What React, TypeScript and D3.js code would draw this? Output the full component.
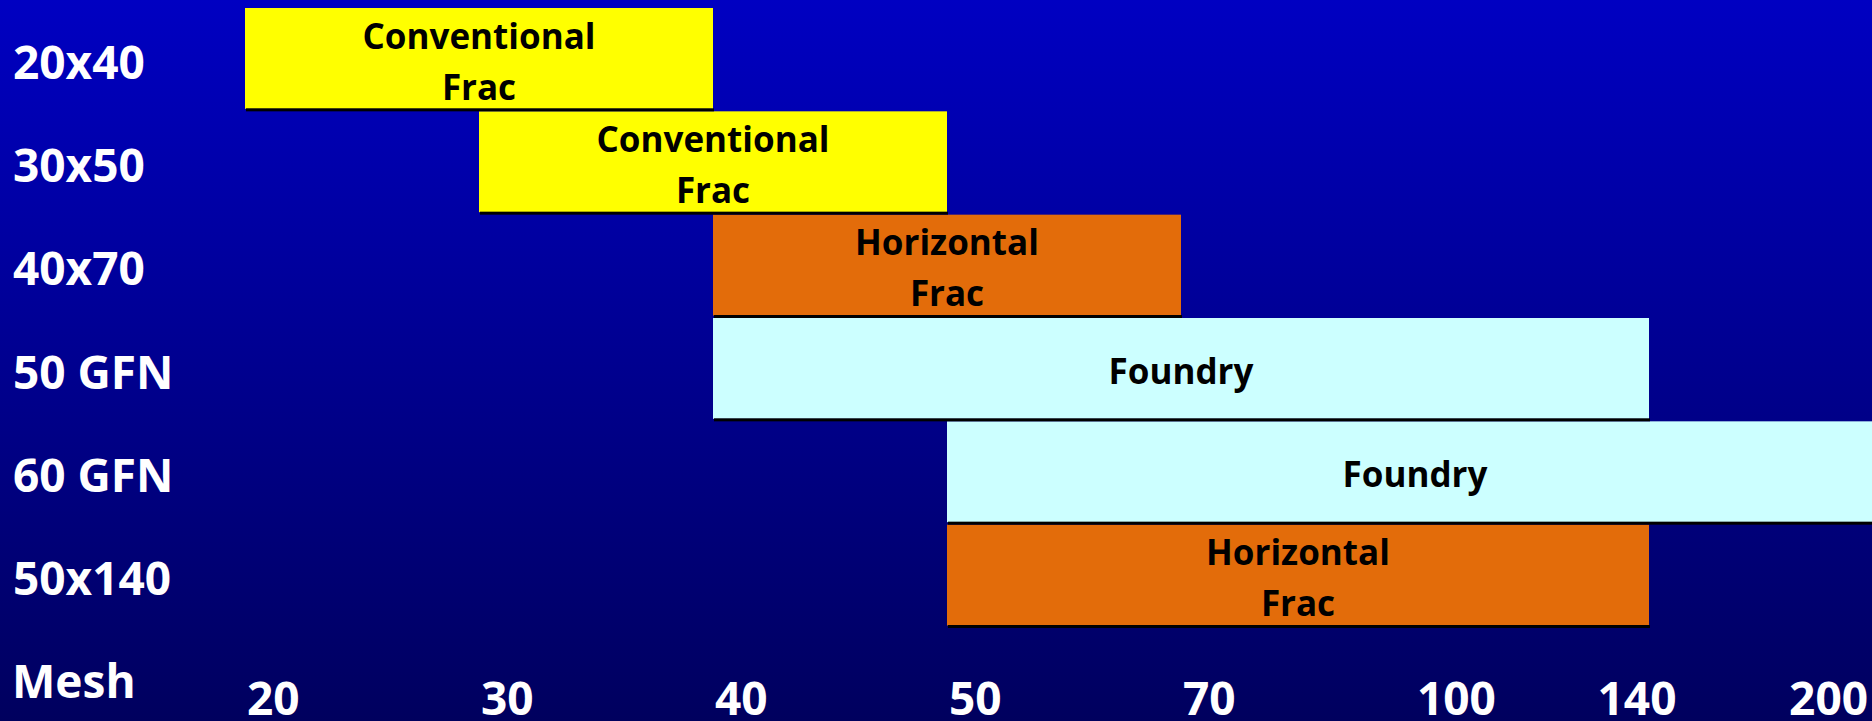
import React from "react";
import * as d3 from "d3";

const meshTicks = ["20", "30", "40", "50", "70", "100", "140", "200"];
const rowLabels = ["20x40", "30x50", "40x70", "50 GFN", "60 GFN", "50x140"];
const barStarts = ["20", "30", "40", "40", "50", "50"];
const barEnds = ["40", "50", "70", "140", "200", "140"];
const barKinds = ["conventional", "conventional", "horizontal", "foundry", "foundry", "horizontal"];
const barTexts = [
  ["Conventional", "Frac"],
  ["Conventional", "Frac"],
  ["Horizontal", "Frac"],
  ["Foundry"],
  ["Foundry"],
  ["Horizontal", "Frac"],
];
const axisTitle = "Mesh";

const kindColors: Record<string, string> = {
  conventional: "#FFFF00",
  horizontal: "#E36C0A",
  foundry: "#CCFFFF",
};

const W = 1872;
const H = 721;
const FONT = "'Open Sans', 'Noto Sans', 'DejaVu Sans', sans-serif";

export default function App() {
  const x = d3.scalePoint<string>().domain(meshTicks).range([245, 1883]);
  const y = d3.scaleBand<string>().domain(rowLabels).range([8, 628]).padding(0);
  const bh = y.bandwidth();

  return (
    <div style={{ position: "fixed", left: 0, top: 0, width: W, height: H, overflow: "hidden" }}>
      <svg width={W} height={H} style={{ display: "block" }}>
        <defs>
          <linearGradient id="bg" x1="0" y1="0" x2="0" y2="1">
            <stop offset="0%" stopColor="#0000C2" />
            <stop offset="100%" stopColor="#00005E" />
          </linearGradient>
        </defs>
        <rect x={0} y={0} width={W} height={H} fill="url(#bg)" />

        {rowLabels.map((r, i) => {
          const x0 = x(barStarts[i])!;
          const x1 = x(barEnds[i])!;
          const top = y(r)!;
          return (
            <rect key={"b" + i} x={x0} y={top} width={x1 - x0} height={bh - 2.5} fill={kindColors[barKinds[i]]} />
          );
        })}
        {rowLabels.map((r, i) => {
          const x0 = x(barStarts[i])!;
          const x1 = x(barEnds[i])!;
          const top = y(r)!;
          return (
            <rect key={"s" + i} x={x0 + 1} y={top + bh - 3} width={x1 - x0} height={3} fill="#000000" />
          );
        })}
        {rowLabels.map((r, i) => {
          const x0 = x(barStarts[i])!;
          const x1 = x(barEnds[i])!;
          const cx = (x0 + x1) / 2;
          const cy = y(r)! + bh / 2;
          const lines = barTexts[i];
          return (
            <g key={"t" + i} fontFamily={FONT} fontWeight={700} fontSize={35} fill="#000" textAnchor="middle">
              {lines.length === 1 ? (
                <text x={cx} y={cy + 14}>{lines[0]}</text>
              ) : (
                lines.map((l, j) => (
                  <text key={j} x={cx} y={cy - 11 + j * 51}>{l}</text>
                ))
              )}
            </g>
          );
        })}

        {rowLabels.map((r) => (
          <text key={"r" + r} x={13} y={y(r)! + bh / 2 + 19} fontFamily={FONT} fontWeight={700} fontSize={46} fill="#FFFFFF">
            {r}
          </text>
        ))}

        <text x={12} y={698} fontFamily={FONT} fontWeight={700} fontSize={46} fill="#FFFFFF">{axisTitle}</text>
        {meshTicks.map((t, i) => {
          let anchor: "start" | "middle" | "end" = "start";
          let tx = x(t)! + 2;
          if (i === meshTicks.length - 1) {
            anchor = "end";
            tx = W - 4;
          } else if (i === meshTicks.length - 2) {
            anchor = "middle";
            tx = x(t)! - 12;
          }
          return (
            <text key={"x" + t} x={tx} y={715} textAnchor={anchor} fontFamily={FONT} fontWeight={700} fontSize={46} fill="#FFFFFF">
              {t}
            </text>
          );
        })}
      </svg>
    </div>
  );
}
